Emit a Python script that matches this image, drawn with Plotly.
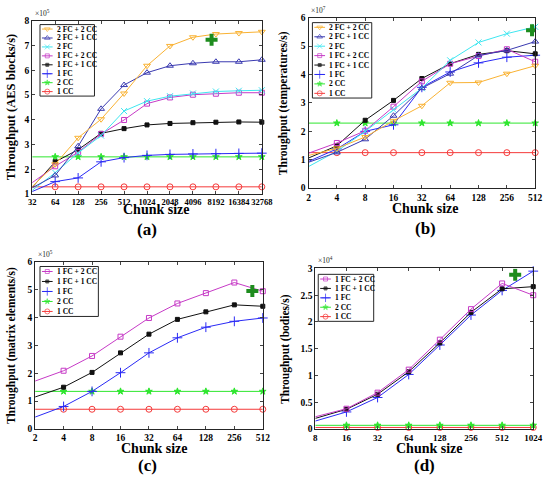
import plotly.graph_objects as go
import math

W, H = 553, 485
FONT = "Liberation Serif"

# ---------------- data ----------------
# (a) AES  (values in units of 1e5 blocks/s)
a_chunks = [32, 64, 128, 256, 512, 1024, 2048, 4096, 8192, 16384, 32768]
a_2fc_2cc = [1.30, 2.20, 3.27, 4.02, 5.06, 6.18, 6.98, 7.33, 7.46, 7.50, 7.55]
a_2fc_1cc = [1.25, 1.75, 2.93, 4.44, 5.40, 5.90, 6.18, 6.28, 6.34, 6.34, 6.42]
a_2fc     = [1.15, 1.86, 2.66, 3.36, 4.35, 4.75, 4.95, 5.06, 5.14, 5.17, 5.19]
a_1fc_2cc = [1.46, 2.12, 2.69, 3.42, 3.99, 4.65, 4.90, 5.01, 5.05, 5.09, 5.09]
a_1fc_1cc = [1.27, 2.30, 2.79, 3.45, 3.64, 3.79, 3.85, 3.88, 3.90, 3.91, 3.90]
a_1fc     = [1.10, 1.50, 1.65, 2.30, 2.47, 2.56, 2.60, 2.62, 2.63, 2.64, 2.65]
a_2cc     = [2.50] * 11
a_1cc     = [1.29] * 11
a_best = (7190, 7.23)

# (b) temperatures  (units of 1e7 temperatures/s)
b_chunks = [2, 4, 8, 16, 32, 64, 128, 256, 512]
b_2fc_2cc = [1.15, 1.40, 1.80, 2.37, 2.90, 3.71, 3.72, 4.03, 4.31]
b_2fc_1cc = [0.91, 1.26, 1.72, 2.55, 3.52, 4.03, 4.67, 4.85, 5.16]
b_2fc     = [0.76, 1.30, 2.00, 2.76, 3.52, 4.50, 5.13, 5.44, 5.68]
b_1fc_2cc = [1.23, 1.59, 2.02, 2.87, 3.76, 4.38, 4.65, 4.89, 4.45]
b_1fc_1cc = [1.06, 1.49, 2.39, 3.09, 3.86, 4.38, 4.71, 4.84, 4.73]
b_1fc     = [0.94, 1.38, 2.00, 2.23, 3.55, 4.09, 4.41, 4.61, 4.68]
b_2cc     = [2.29] * 9
b_1cc     = [1.25] * 9
b_best = (474, 5.56)

# (c) matrix elements  (units of 1e5 elements/s)
c_chunks = [2, 4, 8, 16, 32, 64, 128, 256, 512]
c_1fc_2cc = [1.72, 2.09, 2.62, 3.31, 3.98, 4.50, 4.87, 5.25, 4.94]
c_1fc_1cc = [1.15, 1.50, 2.03, 2.73, 3.40, 3.93, 4.20, 4.45, 4.40]
c_1fc     = [0.43, 0.81, 1.35, 2.02, 2.73, 3.27, 3.65, 3.86, 3.98]
c_2cc     = [1.35] * 9
c_1cc     = [0.71] * 9
c_best = (397, 4.95)

# (d) bodies  (units of 1e4 bodies/s)
d_chunks = [8, 16, 32, 64, 128, 256, 512, 1024]
d_1fc_2cc = [0.23, 0.38, 0.68, 1.11, 1.67, 2.24, 2.72, 2.50]
d_1fc_1cc = [0.20, 0.37, 0.65, 1.07, 1.61, 2.18, 2.62, 2.66]
d_1fc     = [0.15, 0.32, 0.59, 1.02, 1.57, 2.13, 2.59, 2.95]
d_2cc     = [0.07] * 8
d_1cc     = [0.03] * 8
d_best = (685, 2.88)

# ---------------- styles ----------------
STY = {
    "2 FC + 2 CC": dict(color="#F9B233", symbol="triangle-down-open", size=6),
    "2 FC + 1 CC": dict(color="#3A3AB0", symbol="triangle-up-open", size=6),
    "2 FC":        dict(color="#3FE6F0", symbol="x-thin-open", size=6),
    "1 FC + 2 CC": dict(color="#C63AC6", symbol="square-open", size=5),
    "1 FC + 1 CC": dict(color="#111111", symbol="square", size=4),
    "1 FC":        dict(color="#2A2AF5", symbol="cross-thin-open", size=7),
    "2 CC":        dict(color="#2EE62E", symbol="star", size=5),
    "1 CC":        dict(color="#F53A3A", symbol="circle-open", size=6),
}

panels = [
    dict(chunks=a_chunks, best=a_best,
         series=[("2 FC + 2 CC", a_2fc_2cc), ("2 FC + 1 CC", a_2fc_1cc), ("2 FC", a_2fc),
                 ("1 FC + 2 CC", a_1fc_2cc), ("1 FC + 1 CC", a_1fc_1cc), ("1 FC", a_1fc),
                 ("2 CC", a_2cc), ("1 CC", a_1cc)],
         box=(29, 16, 265, 193), yr=(1, 8), yt=[1, 2, 3, 4, 5, 6, 7, 8], exp="5",
         ytitle="Throughput (AES blocks/s)", ytx=8, yfs=12.5, xfs=8.5,
         xt_xy=(157, 209), lab="(a)", lab_xy=(147, 229),
         leg=(37, 20, 93, 93)),
    dict(chunks=b_chunks, best=b_best,
         series=[("2 FC + 2 CC", b_2fc_2cc), ("2 FC + 1 CC", b_2fc_1cc), ("2 FC", b_2fc),
                 ("1 FC + 2 CC", b_1fc_2cc), ("1 FC + 1 CC", b_1fc_1cc), ("1 FC", b_1fc),
                 ("2 CC", b_2cc), ("1 CC", b_1cc)],
         box=(313, 13, 546, 187), yr=(0, 6), yt=[0, 1, 2, 3, 4, 5, 6], exp="7",
         ytitle="Throughput (temperatures/s)", ytx=288, yfs=11.5, xfs=9.5,
         xt_xy=(433, 208), lab="(b)", lab_xy=(433, 228),
         leg=(317, 18, 378, 95)),
    dict(chunks=c_chunks, best=c_best,
         series=[("1 FC + 2 CC", c_1fc_2cc), ("1 FC + 1 CC", c_1fc_1cc), ("1 FC", c_1fc),
                 ("2 CC", c_2cc), ("1 CC", c_1cc)],
         box=(32, 262, 266, 433), yr=(0, 6), yt=[0, 1, 2, 3, 4, 5, 6], exp="5",
         ytitle="Throughput (matrix elements/s)", ytx=8, yfs=11.5, xfs=9.5,
         xt_xy=(155, 453), lab="(c)", lab_xy=(148, 470),
         leg=(37, 267, 97, 318)),
    dict(chunks=d_chunks, best=d_best,
         series=[("1 FC + 2 CC", d_1fc_2cc), ("1 FC + 1 CC", d_1fc_1cc), ("1 FC", d_1fc),
                 ("2 CC", d_2cc), ("1 CC", d_1cc)],
         box=(320, 269, 544, 433), yr=(0, 3), yt=[0, 0.5, 1, 1.5, 2, 2.5, 3], exp="4",
         ytitle="Throughput (bodies/s)", ytx=290, yfs=11.5, xfs=9,
         xt_xy=(437, 453), lab="(d)", lab_xy=(432, 470),
         leg=(323, 275, 380, 323)),
]

fig = go.Figure()
layout = dict(width=W, height=H, margin=dict(l=0, r=0, t=0, b=0),
              paper_bgcolor="white", plot_bgcolor="rgba(0,0,0,0)", showlegend=False,
              font=dict(family=FONT, color="black"), hovermode=False)
annotations = []
shapes = []

# overlay pixel axes for the hand-made legends (transparent background)
layout["xaxis5"] = dict(domain=[0, 1], range=[0, W], visible=False, fixedrange=True, anchor="y5")
layout["yaxis5"] = dict(domain=[0, 1], range=[H, 0], visible=False, fixedrange=True, anchor="x5")

for i, p in enumerate(panels):
    k = "" if i == 0 else str(i + 1)
    xa, ya = "x" + k, "y" + k
    x0, y0, x1, y1 = p["box"]
    ch = p["chunks"]
    layout["xaxis" + k] = dict(
        domain=[x0 / W, x1 / W], anchor=ya, type="log",
        range=[math.log10(ch[0]), math.log10(ch[-1])],
        tickvals=ch, ticktext=[str(c) for c in ch], tickangle=0,
        tickfont=dict(family=FONT, size=p["xfs"], color="black", weight="bold"),
        ticks="inside", ticklen=3, showline=True, linecolor="#262626", linewidth=1,
        mirror="allticks", showgrid=False, zeroline=False)
    layout["yaxis" + k] = dict(
        domain=[1 - y1 / H, 1 - y0 / H], anchor=xa,
        range=list(p["yr"]), tickvals=p["yt"],
        tickfont=dict(family=FONT, size=9.5, color="black", weight="bold"),
        ticks="inside", ticklen=3, showline=True, linecolor="#262626", linewidth=1,
        mirror="allticks", showgrid=False, zeroline=False)
    for name, vals in reversed(p["series"]):
        s = STY[name]
        fig.add_trace(go.Scatter(
            x=ch, y=vals, mode="lines+markers", name=name, xaxis=xa, yaxis=ya,
            line=dict(color=s["color"], width=1),
            marker=dict(symbol=s["symbol"], size=s["size"], color=s["color"],
                        line=dict(color=s["color"], width=1)),
            cliponaxis=False))
    fig.add_trace(go.Scatter(
        x=[p["best"][0]], y=[p["best"][1]], mode="markers", xaxis=xa, yaxis=ya,
        marker=dict(symbol="cross", size=10, color="#1E8C1E",
                    line=dict(color="#1E8C1E", width=0))))
    annotations.append(dict(
        text="\u00d710<sup>" + p["exp"] + "</sup>", xref="paper", yref="paper",
        x=(x0 + 1) / W, y=1 - (y0 - 1) / H, xanchor="left", yanchor="bottom",
        showarrow=False, font=dict(family=FONT, size=7.5, color="#262626")))
    annotations.append(dict(
        text=p["ytitle"], xref="paper", yref="paper", textangle=-90,
        x=p["ytx"] / W, y=1 - ((y0 + y1) / 2) / H, xanchor="center", yanchor="middle",
        showarrow=False, font=dict(family=FONT, size=p["yfs"], weight="bold")))
    annotations.append(dict(
        text="Chunk size", xref="paper", yref="paper",
        x=p["xt_xy"][0] / W, y=1 - p["xt_xy"][1] / H, xanchor="center", yanchor="middle",
        showarrow=False, font=dict(family=FONT, size=14, weight="bold")))
    annotations.append(dict(
        text=p["lab"], xref="paper", yref="paper",
        x=p["lab_xy"][0] / W, y=1 - p["lab_xy"][1] / H, xanchor="center", yanchor="middle",
        showarrow=False, font=dict(family=FONT, size=17, weight="bold")))
    # legend box: white fill below all traces, legend samples drawn on top of it
    lx0, ly0, lx1, ly1 = p["leg"]
    shapes.append(dict(type="rect", xref="paper", yref="paper",
                       x0=lx0 / W, x1=lx1 / W, y0=1 - ly1 / H, y1=1 - ly0 / H,
                       line=dict(color="#262626", width=1), fillcolor="white", layer="below"))
    n = len(p["series"])
    rh = (ly1 - ly0) / n
    for j, (name, _) in enumerate(p["series"]):
        s = STY[name]
        cy = ly0 + rh * (j + 0.5)
        fig.add_trace(go.Scatter(
            x=[lx0 + 2, lx0 + 7.5, lx0 + 13], y=[cy, cy, cy], mode="lines+markers",
            xaxis="x5", yaxis="y5", line=dict(color=s["color"], width=1),
            marker=dict(symbol=s["symbol"], size=[0, max(s["size"] - 1, 3), 0], color=s["color"],
                        line=dict(color=s["color"], width=1))))
        annotations.append(dict(
            text=name, xref="paper", yref="paper", x=(lx0 + 15) / W, y=1 - cy / H,
            xanchor="left", yanchor="middle", showarrow=False,
            font=dict(family=FONT, size=7.5, weight="bold")))

layout["annotations"] = annotations
layout["shapes"] = shapes
fig.update_layout(**layout)
fig.write_html("out.html", config={"displayModeBar": False, "staticPlot": True},
               post_script="document.body.style.margin='0';document.body.style.overflow='hidden';")
